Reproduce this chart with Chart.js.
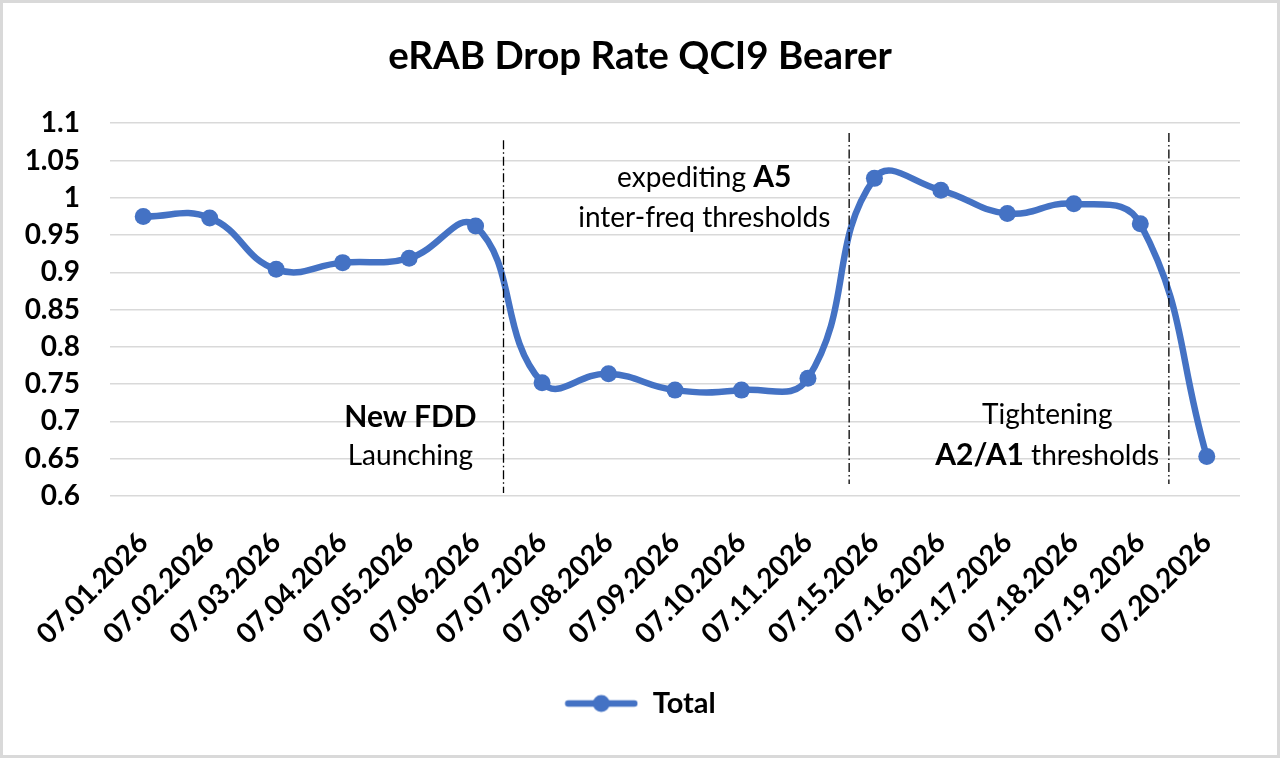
<!DOCTYPE html>
<html>
<head>
<meta charset="utf-8">
<script src="https://cdn.jsdelivr.net/npm/chart.js@4.4.1/dist/chart.umd.min.js"></script>
<style>
  html, body { margin: 0; padding: 0; background: #fff; }
  #wrap { width: 1280px; height: 758px; }
</style>
</head>
<body>
<div id="wrap"><canvas id="chart" width="1280" height="758"></canvas></div>
<script>
// Data
const dates = ['07.01.2026', '07.02.2026', '07.03.2026', '07.04.2026', '07.05.2026', '07.06.2026',
  '07.07.2026', '07.08.2026', '07.09.2026', '07.10.2026', '07.11.2026', '07.15.2026',
  '07.16.2026', '07.17.2026', '07.18.2026', '07.19.2026', '07.20.2026'];
const totals = [0.975, 0.973, 0.904, 0.913, 0.919, 0.962,
  0.752, 0.764, 0.742, 0.742, 0.758, 1.026,
  1.010, 0.979, 0.992, 0.965, 0.653];
const yMin = 0.6;
const yMax = 1.1;
const yStep = 0.05;

// Phase separators (category index, value range) and notes (category index, baseline value)
const phaseLines = [
  { at: 5.42, from: 0.604, to: 1.077 },
  { at: 10.62, from: 0.616, to: 1.087 },
  { at: 15.43, from: 0.616, to: 1.087 }
];
const notes = [
  { at: 4.02, y: 0.693, parts: [['New FDD', true]] },
  { at: 4.02, y: 0.642, parts: [['Launching', false]] },
  { at: 8.44, y: 1.014, parts: [['expediting ', false], ['A5', true]] },
  { at: 8.44, y: 0.961, parts: [['inter-freq thresholds', false]] },
  { at: 13.6, y: 0.697, parts: [['Tightening', false]] },
  { at: 13.6, y: 0.642, parts: [['A2/A1', true], [' thresholds', false]] }
];

const BLUE = '#4472C4';
const FONT = 'Lato, "Noto Sans", sans-serif';

// Legend marker: line with a dot
const legendMark = document.createElement('canvas');
legendMark.width = 74;
legendMark.height = 20;
(() => {
  const c = legendMark.getContext('2d');
  c.strokeStyle = BLUE;
  c.lineWidth = 6.5;
  c.lineCap = 'round';
  c.beginPath();
  c.moveTo(4, 10);
  c.lineTo(70, 10);
  c.stroke();
  c.fillStyle = BLUE;
  c.beginPath();
  c.arc(37, 10, 8.5, 0, Math.PI * 2);
  c.fill();
})();

const frame = {
  id: 'frame',
  beforeDraw(chart) {
    const { ctx, width, height } = chart;
    ctx.save();
    ctx.fillStyle = '#fff';
    ctx.fillRect(0, 0, width, height);
    ctx.strokeStyle = '#d9d9d9';
    ctx.lineWidth = 3;
    ctx.strokeRect(1.5, 1.5, width - 3, height - 3);
    ctx.restore();
  }
};

const overlays = {
  id: 'overlays',
  afterDatasetsDraw(chart) {
    const { ctx, scales: { x, y } } = chart;
    ctx.save();
    // dash-dot separators
    ctx.strokeStyle = '#000';
    ctx.lineWidth = 1.3;
    ctx.setLineDash([9, 3, 1.5, 3]);
    phaseLines.forEach(p => {
      const px = x.getPixelForValue(p.at);
      ctx.beginPath();
      ctx.moveTo(px, y.getPixelForValue(p.to));
      ctx.lineTo(px, y.getPixelForValue(p.from));
      ctx.stroke();
    });
    ctx.setLineDash([]);
    // notes with mixed weights
    ctx.fillStyle = '#000';
    ctx.textBaseline = 'alphabetic';
    ctx.textAlign = 'left';
    notes.forEach(n => {
      const fonts = n.parts.map(([, bold]) => (bold ? 'bold 30px ' : '28px ') + FONT);
      let total = 0;
      const widths = n.parts.map(([t], i) => {
        ctx.font = fonts[i];
        const w = ctx.measureText(t).width;
        total += w;
        return w;
      });
      let px = x.getPixelForValue(n.at) - total / 2;
      const py = y.getPixelForValue(n.y);
      n.parts.forEach(([t], i) => {
        ctx.font = fonts[i];
        ctx.fillText(t, px, py);
        px += widths[i];
      });
    });
    ctx.restore();
  }
};

new Chart(document.getElementById('chart'), {
  type: 'line',
  data: {
    labels: dates,
    datasets: [{
      label: 'Total',
      data: totals,
      borderColor: BLUE,
      backgroundColor: BLUE,
      borderWidth: 6.5,
      tension: 0.45,
      pointRadius: 8.5,
      pointBackgroundColor: BLUE,
      pointBorderColor: BLUE,
      pointBorderWidth: 0,
      pointStyle: 'circle'
    }]
  },
  options: {
    responsive: false,
    animation: false,
    devicePixelRatio: 1,
    layout: { padding: { left: 10, right: 10, top: 0, bottom: 30 } },
    plugins: {
      title: {
        display: true,
        text: 'eRAB Drop Rate QCI9 Bearer',
        color: '#000',
        font: { family: FONT, size: 38.5, weight: 'bold' },
        padding: { top: 33, bottom: 44 }
      },
      legend: {
        position: 'bottom',
        labels: {
          usePointStyle: true,
          pointStyle: legendMark,
          pointStyleWidth: 74,
          color: '#000',
          font: { family: FONT, size: 29, weight: 'bold' },
          padding: 10,
          generateLabels(chart) {
            return chart.data.datasets.map((ds, i) => ({
              text: ds.label,
              pointStyle: legendMark,
              fillStyle: BLUE,
              strokeStyle: BLUE,
              lineWidth: 0,
              datasetIndex: i,
              fontColor: '#000'
            }));
          }
        }
      },
      tooltip: { enabled: false }
    },
    scales: {
      x: {
        offset: true,
        grid: { display: false, drawTicks: false, offset: true },
        border: { display: false },
        ticks: {
          color: '#000',
          font: { family: FONT, size: 28, weight: 'bold' },
          minRotation: 45,
          maxRotation: 45,
          autoSkip: false,
          padding: 30
        },
        afterFit(scale) { scale.height = 183; }
      },
      y: {
        min: yMin,
        max: yMax,
        grid: { color: '#d9d9d9', lineWidth: 1.5, drawTicks: false },
        border: { display: false },
        ticks: {
          stepSize: yStep,
          color: '#000',
          font: { family: FONT, size: 28, weight: 'bold' },
          padding: 30,
          callback: v => Number(v.toFixed(2)).toString()
        },
        afterFit(scale) { scale.width = 100; }
      },
      // empty right-hand spacer so the plot sits where the original does
      spacer: {
        type: 'linear',
        position: 'right',
        grid: { display: false, drawTicks: false },
        border: { display: false },
        ticks: { display: false },
        afterFit(scale) { scale.width = 30; }
      }
    }
  },
  plugins: [frame, overlays]
});
</script>
</body>
</html>
